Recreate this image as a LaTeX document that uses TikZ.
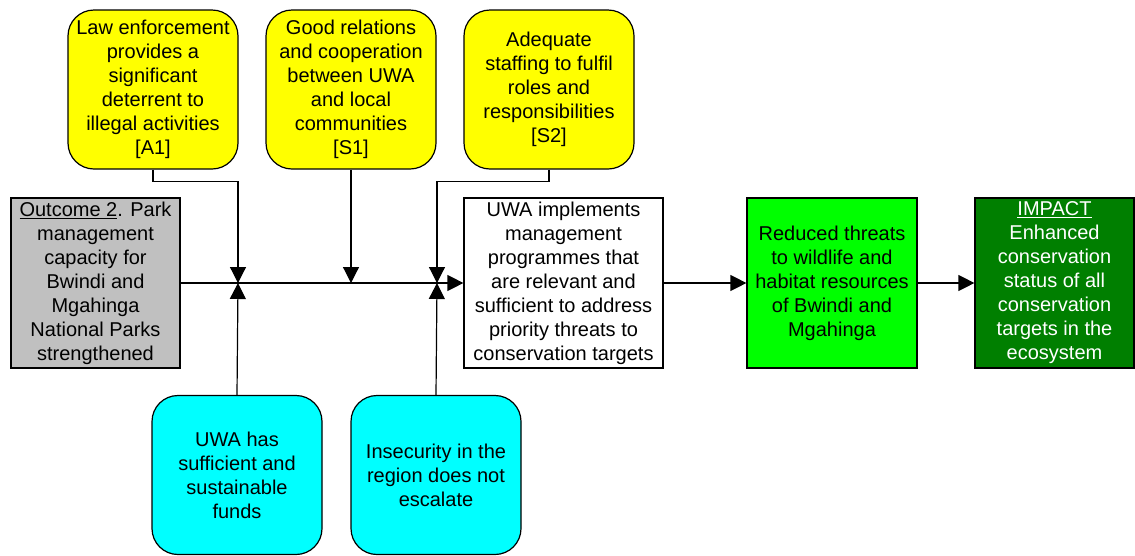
\documentclass[tikz,border=0pt]{standalone}
\usepackage{fontspec}
\setmainfont{Liberation Sans}
\usetikzlibrary{arrows.meta}
\definecolor{ybox}{HTML}{FFFF00}
\definecolor{cbox}{HTML}{00FFFF}
\definecolor{gbox}{HTML}{C0C0C0}
\definecolor{lgreen}{HTML}{00FF00}
\definecolor{dgreen}{HTML}{007F00}
\begin{document}
\begin{tikzpicture}[x=1pt,y=1pt,
  base/.style={draw=black, line width=1.2pt, inner sep=0pt, align=center,
    font=\fontsize{20}{24}\selectfont},
  roundbox/.style={base, rounded corners=26pt, minimum width=170pt, minimum height=159pt},
  yellowbox/.style={roundbox, fill=ybox},
  cyanbox/.style={roundbox, fill=cbox},
  rectbox/.style={base, minimum height=170pt},
  conn/.style={line width=1.2pt, -{Triangle[length=16pt,width=16pt]}}
]
\useasboundingbox (0,0) rectangle (1135,-555);
% assumption boxes
\node[yellowbox] (A1) at (153,-89.5) {Law enforcement\\provides a\\significant\\deterrent to\\illegal activities\\{[A1]}};
\node[yellowbox] (S1) at (351,-89.5) {Good relations\\and cooperation\\between UWA\\and local\\communities\\{[S1]}};
\node[yellowbox] (S2) at (549,-89.5) {Adequate\\staffing to fulfil\\roles and\\responsibilities\\{[S2]}};
\node[cyanbox] (C1) at (237,-475) {UWA has\\sufficient and\\sustainable\\funds};
\node[cyanbox] (C2) at (436,-475) {Insecurity in the\\region does not\\escalate};
% chain boxes
\node[rectbox, fill=gbox, minimum width=169pt] (O2) at (95.5,-283) {\underline{Outcome 2}. Park\\management\\capacity for\\Bwindi and\\Mgahinga\\National Parks\\strengthened};
\node[rectbox, fill=white, minimum width=199pt] (UWA) at (563.5,-283) {UWA implements\\management\\programmes that\\are relevant and\\sufficient to address\\priority threats to\\conservation targets};
\node[rectbox, fill=lgreen, minimum width=170pt] (RT) at (832,-283) {Reduced threats\\to wildlife and\\habitat resources\\of Bwindi and\\Mgahinga};
\node[rectbox, fill=dgreen, minimum width=159pt, text=white] (IM) at (1054.5,-283) {\underline{IMPACT}\\Enhanced\\conservation\\status of all\\conservation\\targets in the\\ecosystem};
% junctions
\coordinate (j1) at (238,-283);
\coordinate (j2) at (351,-283);
\coordinate (j3) at (437,-283);
% main line
\draw[conn] (O2.east) -- (UWA.west);
\draw[conn] (UWA.east) -- (RT.west);
\draw[conn] (RT.east) -- (IM.west);
% assumption connectors
\draw[conn] (A1.south) -- ++(0,-12) -| (j1);
\draw[conn] (S1.south) -- (j2);
\draw[conn] (S2.south) -- ++(0,-12) -| (j3);
\draw[conn] (C1.north) -- (j1);
\draw[conn] (C2.north) -- (j3);
\end{tikzpicture}
\end{document}
